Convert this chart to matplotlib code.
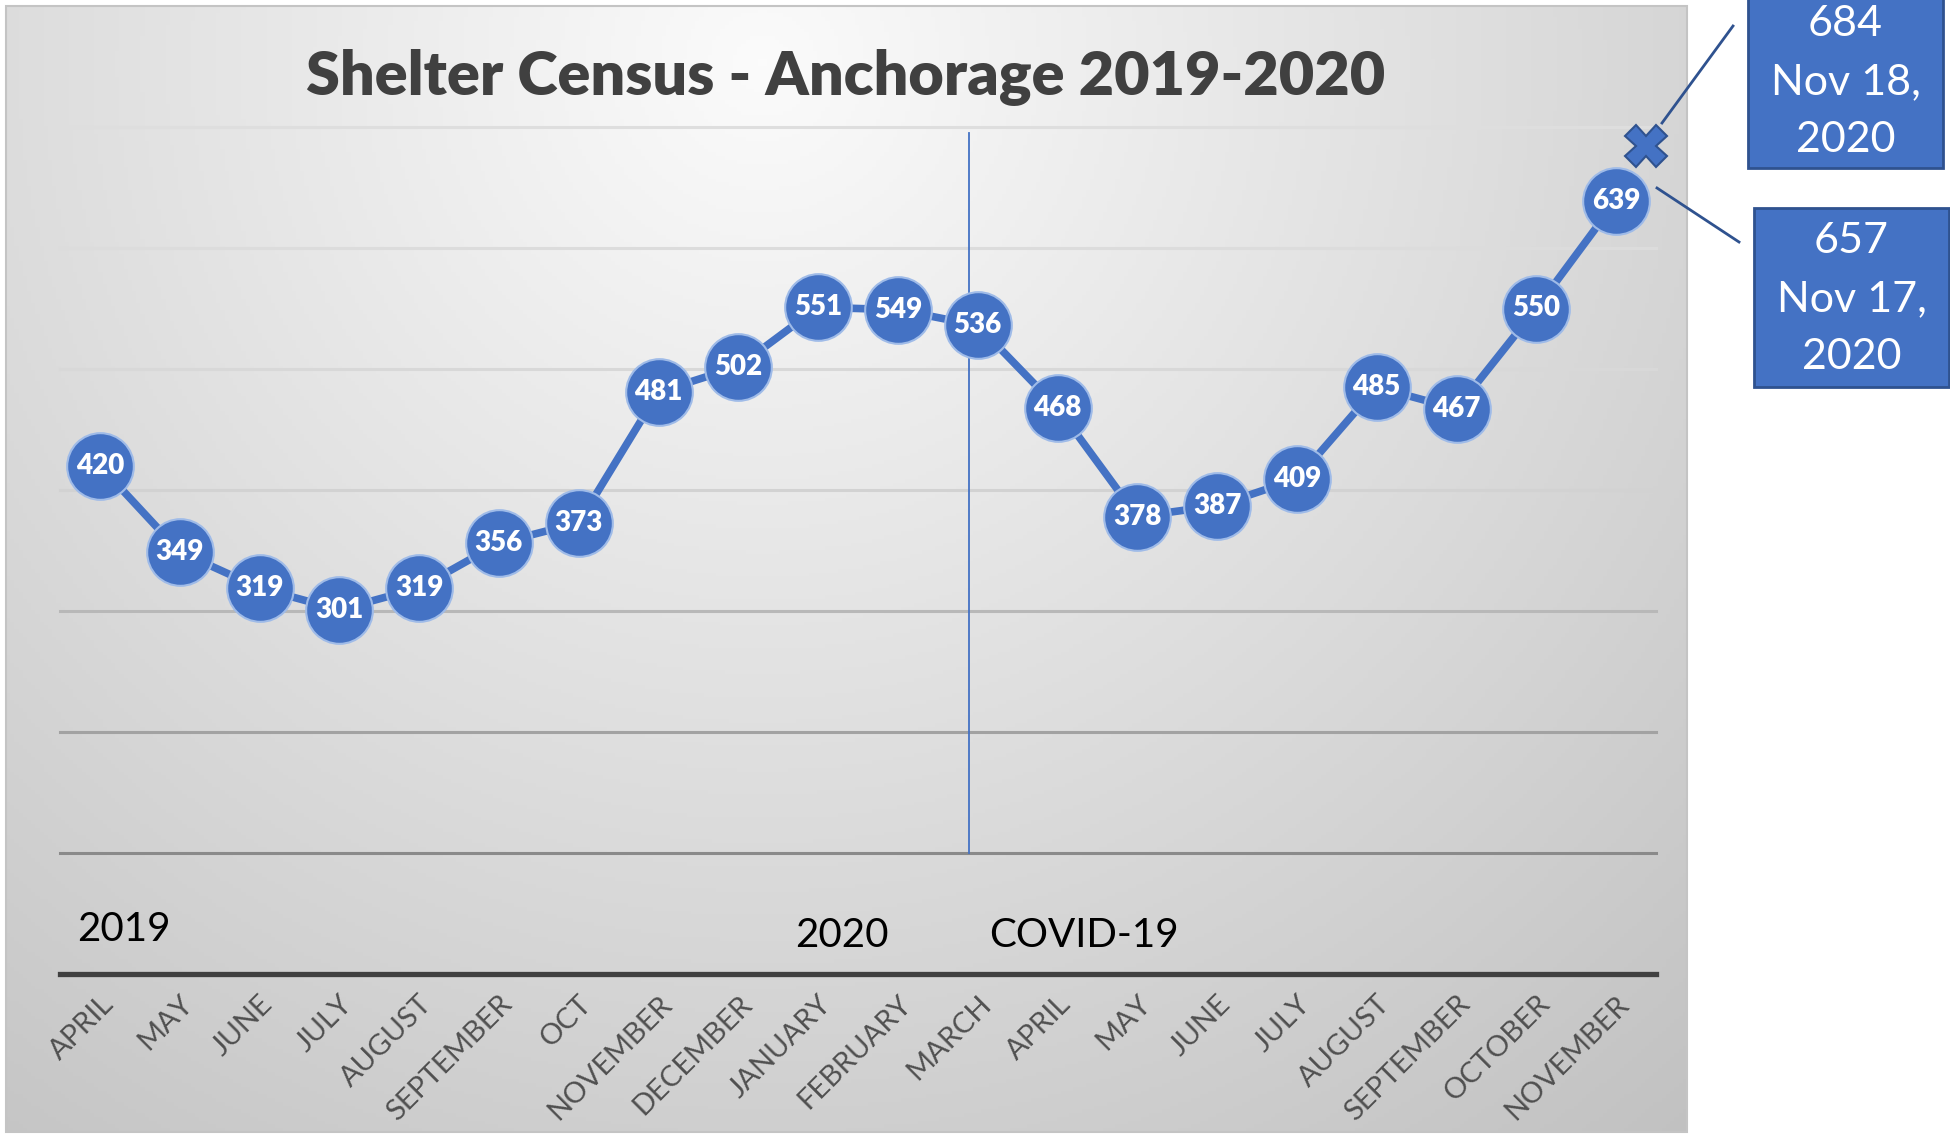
import numpy as np
import matplotlib
matplotlib.use("Agg")
import matplotlib.pyplot as plt
from matplotlib.patches import Rectangle

months = ["APRIL", "MAY", "JUNE", "JULY", "AUGUST", "SEPTEMBER", "OCT", "NOVEMBER",
          "DECEMBER", "JANUARY", "FEBRUARY", "MARCH", "APRIL", "MAY", "JUNE", "JULY",
          "AUGUST", "SEPTEMBER", "OCTOBER", "NOVEMBER"]
census = [420, 349, 319, 301, 319, 356, 373, 481, 502, 551, 549, 536, 468, 378, 387,
          409, 485, 467, 550, 639]
grid_levels = [100, 200, 300, 400, 500, 600, 700]
grid_colors = ["#8a8a8a", "#a2a2a2", "#b8b8b8", "#d2d2d2", "#d8d8d8", "#dcdcdc", "#dedede"]
nov18_value = 684
nov17_value = 657
year_labels = [("2019", -0.28, 37), ("2020", 8.71, 32), ("COVID-19", 11.14, 32)]

blue = "#4472C4"
dark_blue = "#2F528F"
W, H = 1950, 1135

plt.rcParams['font.family'] = ['Lato', 'DejaVu Sans']
fig = plt.figure(figsize=(W / 100, H / 100), dpi=100)


def fx(px):
    return px / W


def fy(py):
    return 1 - py / H


# gradient background of the chart block
bg = fig.add_axes([fx(6), fy(1132), fx(1687 - 6), (1132 - 6) / H])
gx, gy = np.meshgrid(np.linspace(0, 1, 400), np.linspace(0, 1, 300))
r = np.sqrt(((gx - 0.45) / 0.75) ** 2 + ((gy - 0.05) / 1.1) ** 2)
shade = np.clip(0.985 - 0.2 * r, 0.74, 1)
bg.imshow(np.dstack([shade] * 3), aspect="auto", extent=[0, 1, 1, 0])
bg.set_xlim(0, 1)
bg.set_ylim(1, 0)
bg.axis("off")
fig.add_artist(Rectangle((fx(6), fy(1132)), fx(1687 - 6), (1132 - 6) / H,
                         transform=fig.transFigure, fill=False, ec="#c4c4c4", lw=1.5))

ax = fig.add_axes([fx(60), fy(974), fx(1656 - 60), (974 - 127) / H])
ax.patch.set_visible(False)
x = np.arange(len(census))
ax.set_xlim(-0.5, len(census) - 0.5)
ax.set_ylim(0, 700)
for level, c in zip(grid_levels, grid_colors):
    ax.axhline(level, color=c, lw=2.2, zorder=1, clip_on=False)
ax.axhline(0, color="#404040", lw=3.8, zorder=1, clip_on=False)
for s in ax.spines.values():
    s.set_visible(False)
ax.set_yticks([])
ax.set_xticks(x)
ax.set_xticklabels(months, rotation=45, ha="right", rotation_mode="anchor",
                   fontsize=21, color="#505050")
ax.tick_params(axis="x", length=0, pad=12)

# COVID divider
ax.plot([10.89, 10.89], [100, 695], color=blue, lw=1.3, zorder=2)

ax.plot(x, census, color=blue, lw=5.5, zorder=3, solid_capstyle="round")
ax.plot(x, census, "o", ms=48, color=blue, mec="#9fbbe8", mew=1.5, zorder=4)
for xi, v in zip(x, census):
    ax.text(xi, v, str(v), ha="center", va="center", color="white",
            fontsize=20, fontweight="heavy", zorder=5)

ax.plot([19.38], [nov18_value], marker="X", ms=30, color=blue, mec=dark_blue,
        mew=1.5, zorder=5, clip_on=False)

for label, lx, ly in year_labels:
    ax.text(lx, ly, label, ha="left", va="center", fontsize=29, color="black")

fig.text(fx(846), fy(77), "Shelter Census - Anchorage 2019-2020", ha="center",
         va="center", fontsize=44, fontweight="heavy", color="#404040")

# callout boxes
boxes = [((1748, -5, 1943, 168), "%d\nNov 18,\n2020" % nov18_value, 82),
         ((1754, 208, 1949, 387), "%d\nNov 17,\n2020" % nov17_value, 299)]
for (x0, y0, x1, y1), txt, cy in boxes:
    fig.add_artist(Rectangle((fx(x0), fy(y1)), fx(x1 - x0), (y1 - y0) / H,
                             transform=fig.transFigure, fc=blue, ec=dark_blue, lw=2))
    fig.text(fx((x0 + x1) / 2), fy(cy), txt, ha="center", va="center",
             fontsize=31, color="white", linespacing=1.65)

for (a, b, c, d) in [(1733, 26, 1662, 123), (1657, 188, 1739, 242)]:
    fig.add_artist(plt.Line2D([fx(a), fx(c)], [fy(b), fy(d)], transform=fig.transFigure,
                              color=dark_blue, lw=2))

fig.savefig("out.png", dpi=100, facecolor="white")
